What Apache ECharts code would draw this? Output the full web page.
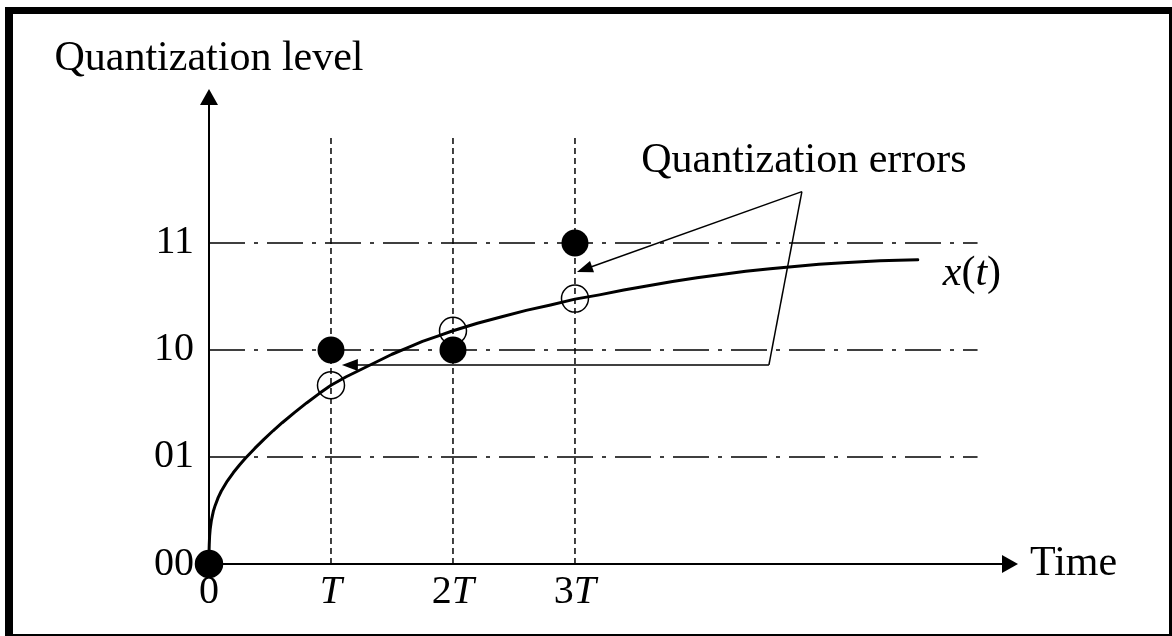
<!DOCTYPE html>
<html><head><meta charset="utf-8">
<script src="https://cdn.jsdelivr.net/npm/echarts@6/dist/echarts.min.js"></script>
<style>
html,body{margin:0;padding:0;background:#fff;overflow:hidden}
#c{position:absolute;left:0;top:0;width:1172px;height:636px}
#frame{position:absolute;left:5px;top:7px;width:1172px;height:635px;box-sizing:border-box;border:8px solid #000;border-top-width:7px;pointer-events:none}
</style></head><body><div id="c"></div><div id="frame"></div>
<script>
// ---- data ----
const levelValues = [0, 1, 2, 3];
const levelLabels = ['00', '01', '10', '11'];
const sampleTimes = [0, 1, 2, 3];
const timeLabels = ['0', 'T', '2T', '3T'];
const sampledSignal = [0, 1.67, 2.18, 2.48];   // open circles on x(t)
const quantizedLevels = [0, 2, 2, 3];          // filled dots
const curveT = [0, 0.001, 0.002, 0.005, 0.01, 0.02, 0.035, 0.05, 0.075, 0.1, 0.15, 0.2, 0.25, 0.3, 0.375, 0.45, 0.525, 0.6, 0.7, 0.8, 0.9, 1.0, 1.125, 1.25, 1.375, 1.5, 1.625, 1.75, 1.875, 2.0, 2.2, 2.4, 2.6, 2.8, 3.0, 3.2, 3.4, 3.6, 3.8, 4.0, 4.2, 4.4, 4.6, 4.8, 5.0, 5.2, 5.35, 5.5, 5.65, 5.81];
const curveV = [0, 0.14, 0.18, 0.26, 0.33, 0.41, 0.49, 0.545, 0.62, 0.68, 0.775, 0.855, 0.925, 0.99, 1.08, 1.165, 1.245, 1.32, 1.415, 1.505, 1.59, 1.67, 1.75, 1.82, 1.89, 1.96, 2.02, 2.08, 2.13, 2.18, 2.25, 2.31, 2.37, 2.42, 2.475, 2.515, 2.56, 2.60, 2.64, 2.675, 2.705, 2.735, 2.76, 2.78, 2.80, 2.815, 2.825, 2.833, 2.838, 2.842];
const gridLevels = [1, 2, 3];
const gridEndT = 6.3;
const sampleLineTop = 4.0;
const errorLabel = 'Quantization errors';
const errorLabelAt = [4.877, 3.762];
const errorApex = [4.86, 3.48];
const errorTipA = [3.078, 2.754];
const errorCorner = [4.59, 1.86];
const errorTipB = [1.155, 1.86];
const xName = 'Time';
const yName = 'Quantization level';
const curveName = 'x(t)';

// ---- chart ----
const FONT = 'Liberation Serif, Times New Roman, serif';
const FS = 40;
const FN = 42;
const italicT = s => s.replace('T', '{i|T}');
const rich = { i: { fontStyle: 'italic', fontFamily: FONT, fontSize: FS, color: '#000' } };
const richN = { i: { fontStyle: 'italic', fontFamily: FONT, fontSize: FN, color: '#000' } };

const series = [];
gridLevels.forEach(l => series.push({
  type: 'line', silent: true, symbol: 'none', z: 1,
  data: [[0, l], [gridEndT, l]],
  lineStyle: { color: '#000', width: 1.5, type: [36, 9, 4, 9] }
}));
sampleTimes.slice(1).forEach(t => series.push({
  type: 'line', silent: true, symbol: 'none', z: 1,
  data: [[t, 0], [t, sampleLineTop]],
  lineStyle: { color: '#000', width: 1.5, type: [6, 4] }
}));
series.push({
  type: 'line', silent: true, symbol: 'none', z: 3, smooth: false,
  data: curveT.map((t, i) => [t, curveV[i]]),
  lineStyle: { color: '#000', width: 3, join: 'round', cap: 'round' },
  endLabel: {
    show: true, distance: 25, offset: [0, 14],
    formatter: () => curveName.replace(/x/, '{i|x}').replace(/\(t\)/, '({i|t})'),
    fontFamily: FONT, fontSize: FN, color: '#000', rich: richN
  }
});
series.push({
  type: 'scatter', silent: true, z: 4, clip: false,
  symbol: 'circle', symbolSize: 27,
  data: sampleTimes.map((t, i) => [t, sampledSignal[i]]),
  itemStyle: { color: 'rgba(0,0,0,0)', borderColor: '#000', borderWidth: 1.5, opacity: 1 }
});
series.push({
  type: 'scatter', silent: true, z: 5, clip: false,
  symbol: 'circle', symbolSize: 27,
  data: sampleTimes.map((t, i) => [t, quantizedLevels[i]]),
  itemStyle: { color: '#000', opacity: 1 }
});
series.push({
  type: 'scatter', silent: true, z: 6,
  symbolSize: 1, itemStyle: { color: 'rgba(0,0,0,0)', opacity: 1 },
  data: [errorLabelAt],
  label: { show: true, position: 'inside', formatter: errorLabel, fontFamily: FONT, fontSize: FN, color: '#000', opacity: 1 },
  markLine: {
    silent: true, animation: false,
    symbol: ['none', 'triangle'], symbolSize: [12, 16],
    label: { show: false },
    lineStyle: { color: '#000', width: 1.5, type: 'solid', opacity: 1 },
    itemStyle: { color: '#000', opacity: 1 },
    emphasis: { disabled: true },
    data: [
      [{ coord: errorApex }, { coord: errorTipA }],
      [{ coord: errorApex }, { coord: errorCorner, symbol: 'none' }],
      [{ coord: errorCorner }, { coord: errorTipB }]
    ]
  }
});

const option = {
  animation: false,
  backgroundColor: '#fff',
  grid: { left: 209, top: 97, right: 162, bottom: 72, containLabel: false },
  xAxis: {
    type: 'value', min: 0, max: 6.566, interval: 1,
    name: xName, nameLocation: 'end', nameGap: 20,
    nameTextStyle: { fontFamily: FONT, fontSize: FN, color: '#000', verticalAlign: 'middle' },
    axisLine: { lineStyle: { color: '#000', width: 2 }, symbol: ['none', 'triangle'], symbolSize: [18, 16] },
    axisTick: { show: false },
    splitLine: { show: false },
    axisLabel: {
      margin: 8, fontFamily: FONT, fontSize: FS, color: '#000', rich: rich,
      showMaxLabel: false,
      formatter: v => { const k = sampleTimes.indexOf(v); return k < 0 ? '' : italicT(timeLabels[k]); }
    }
  },
  yAxis: {
    type: 'value', min: 0, max: 4.364, interval: 1,
    name: yName, nameLocation: 'end', nameGap: 17,
    nameTextStyle: { fontFamily: FONT, fontSize: FN, color: '#000', align: 'center' },
    axisLine: { lineStyle: { color: '#000', width: 2 }, symbol: ['none', 'triangle'], symbolSize: [18, 16] },
    axisTick: { show: false },
    splitLine: { show: false },
    axisLabel: {
      margin: 15, fontFamily: FONT, fontSize: FS, color: '#000',
      showMaxLabel: false,
      formatter: v => { const k = levelValues.indexOf(v); return k < 0 ? '' : levelLabels[k]; }
    }
  },
  series: series
};
const chart = echarts.init(document.getElementById('c'), null, { renderer: 'canvas' });
chart.setOption(option);
</script></body></html>
